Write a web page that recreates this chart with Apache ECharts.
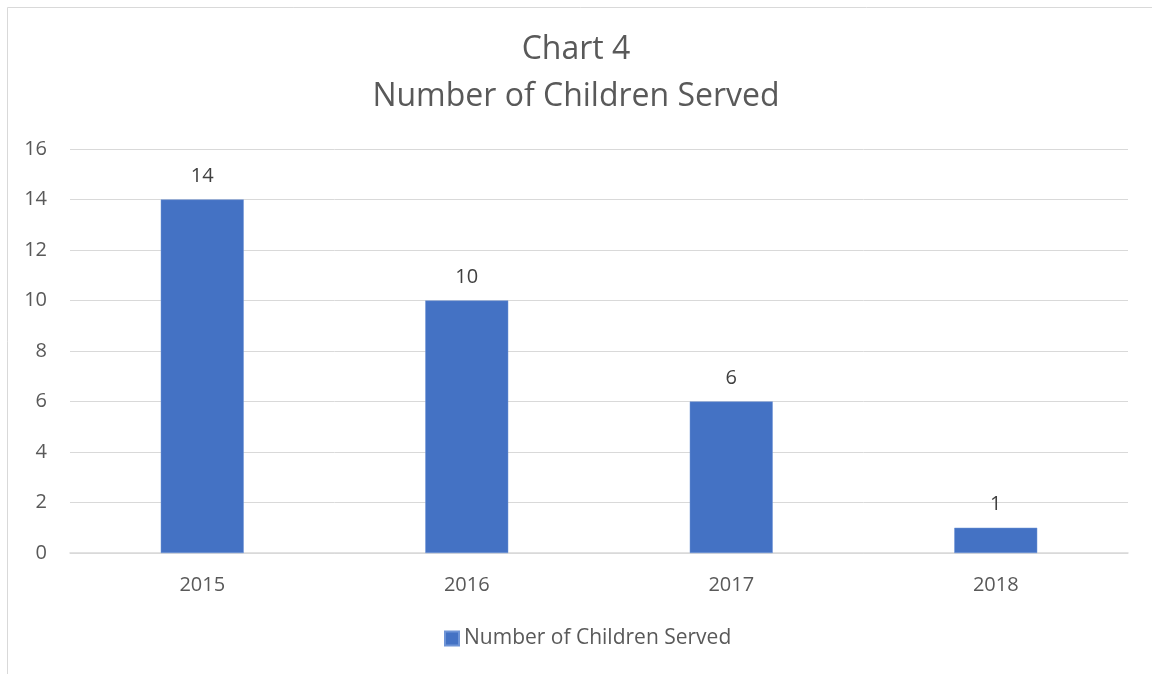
<!DOCTYPE html>
<html><head><meta charset="utf-8">
<script src="https://cdn.jsdelivr.net/npm/echarts@6/dist/echarts.min.js"></script>
<style>html,body{margin:0;padding:0;background:#fff}#c{width:1152px;height:674px}</style>
</head><body><div id="c"></div>
<script>
const categories = ['2015', '2016', '2017', '2018'];
const seriesName = 'Number of Children Served';
const values = [14, 10, 6, 1];
const titleLines = ['Chart 4', 'Number of Children Served'];

const chart = echarts.init(document.getElementById('c'));
const font = 'Open Sans';
chart.setOption({
  animation: false,
  backgroundColor: '#fff',
  graphic: [{
    type: 'rect', left: 5, top: 5, silent: true,
    shape: { width: 1200, height: 700 },
    style: { fill: 'none', stroke: '#d9d9d9', lineWidth: 1 }
  }],
  title: {
    text: titleLines.join('\n'),
    left: 'center', top: 21,
    textStyle: { fontFamily: font, fontSize: 32, fontWeight: 'normal', color: '#595959', lineHeight: 47 }
  },
  legend: {
    bottom: 20, left: 439,
    itemWidth: 14, itemHeight: 14, itemGap: 6,
    icon: 'rect',
    textStyle: { fontFamily: font, fontSize: 21, color: '#595959' },
    data: [seriesName]
  },
  grid: { left: 70, right: 24, top: 149, bottom: 121, containLabel: false },
  xAxis: {
    type: 'category', data: categories,
    axisLine: { lineStyle: { color: '#d9d9d9', width: 1.5 } },
    axisTick: { show: false },
    axisLabel: { fontFamily: font, fontSize: 20, color: '#595959', margin: 22 }
  },
  yAxis: {
    type: 'value', min: 0, max: 16, interval: 2,
    axisLine: { show: false }, axisTick: { show: false },
    splitLine: { lineStyle: { color: '#d9d9d9', width: 1 } },
    axisLabel: { fontFamily: font, fontSize: 20, color: '#595959', margin: 23 }
  },
  series: [{
    name: seriesName, type: 'bar', data: values,
    barWidth: 83,
    itemStyle: { color: '#4472c4', borderColor: '#6e94d6', borderWidth: 0.5 },
    label: { show: true, position: 'top', distance: 13, fontFamily: font, fontSize: 20, color: '#404040' }
  }]
});
</script></body></html>
